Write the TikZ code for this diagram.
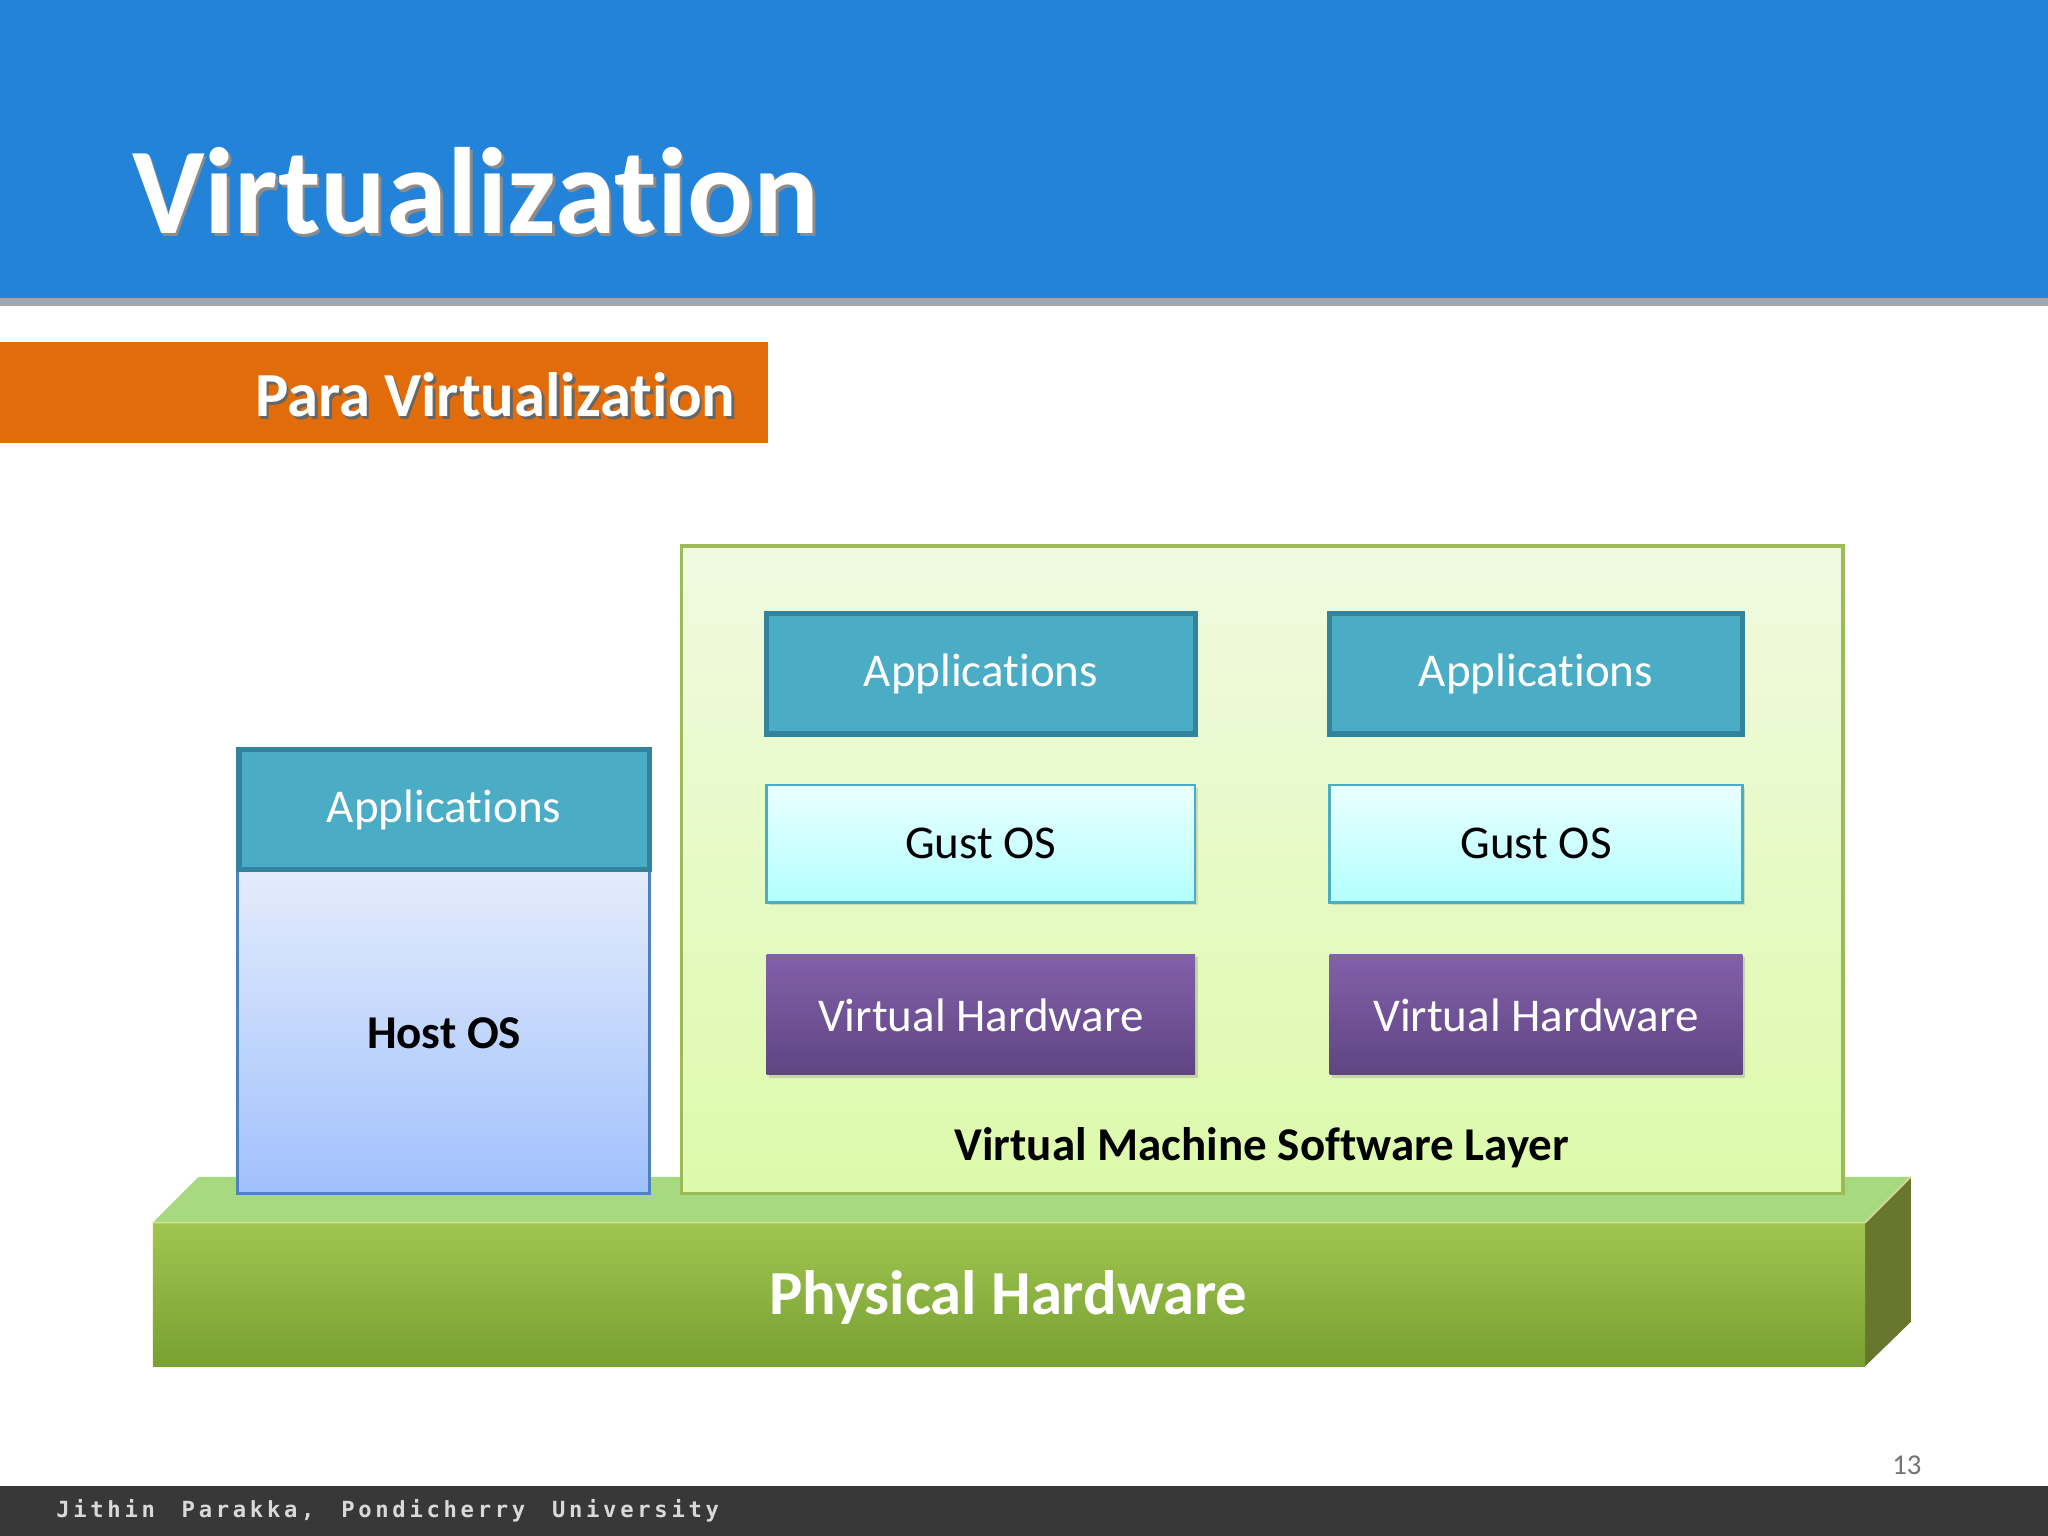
\documentclass[tikz,border=0pt]{standalone}
\usepackage{fontspec}
\setmainfont[RawFeature={-liga}]{Carlito}
\newfontfamily\footfont{DejaVu Sans Mono}
\usetikzlibrary{shadows}
\definecolor{hdr}{HTML}{2283D9}
\definecolor{org}{HTML}{E36C0A}
\definecolor{appf}{HTML}{4BACC6}
\definecolor{appd}{HTML}{31849B}
\definecolor{vtop}{HTML}{8360AA}
\definecolor{vbot}{HTML}{5E4582}
\tikzset{
 appbox/.style={draw=appd,line width=2pt,fill=appf,text=white,font=\fontsize{18}{20}\selectfont},
 gustbox/.style={draw=appf,line width=1pt,top color=cyan!8,bottom color=cyan!30,text=black,font=\fontsize{18}{20}\selectfont,drop shadow={opacity=0.25,shadow xshift=1pt,shadow yshift=-1pt}},
 vhbox/.style={draw=none,top color=vtop,bottom color=vbot,text=white,font=\fontsize{18}{20}\selectfont,drop shadow={opacity=0.3,shadow xshift=1pt,shadow yshift=-1pt}},
}
\begin{document}
\begin{tikzpicture}[x=0.5pt,y=-0.5pt]
\useasboundingbox (0,0) rectangle (1568,1176);
\fill[white] (0,0) rectangle (1568,1176);
% header
\fill[black!35] (0,224) rectangle (1568,234);
\fill[hdr] (0,0) rectangle (1568,228);
\node[anchor=base west,text=black!45,font=\bfseries\fontsize{47}{50}\selectfont] at (96,181) {Virtualization};
\node[anchor=base west,text=white,font=\bfseries\fontsize{47}{50}\selectfont] (title) at (94,179) {Virtualization};
% orange
\fill[org] (0,262) rectangle (588,339);
\node[anchor=base east,text=black!60,font=\bfseries\fontsize{24}{28}\selectfont] at (572,321) {Para Virtualization};
\node[anchor=base east,text=white,font=\bfseries\fontsize{24}{28}\selectfont] (sub) at (570,319) {Para Virtualization};
% physical hardware slab
\fill[green!40!olive!50!white] (117,936) -- (152,901) -- (1463,901) -- (1428,936) -- cycle;
\fill[olive!70!green!70!black] (1428,936) -- (1463,901) -- (1463,1012) -- (1428,1046) -- cycle;
\shade[top color={rgb,255:red,160;green,198;blue,80},bottom color={rgb,255:red,120;green,160;blue,50}] (117,936) rectangle (1428,1046);
\draw[white!70!olive,line width=0.6pt] (117,936) -- (1428,936) -- (1463,901);
\node[text=white,font=\bfseries\fontsize{24}{26}\selectfont] (phys) at (772,993) {Physical Hardware};
% VM layer
\draw[draw={rgb,255:red,155;green,187;blue,89},line width=1.2pt,top color={rgb,255:red,240;green,250;blue,225},bottom color={rgb,255:red,220;green,250;blue,170}] (522,418) rectangle (1411,914);
\node[font=\bfseries\fontsize{18}{20}\selectfont] (vmsl) at (966,879) {Virtual Machine Software Layer};
% host
\draw[draw={rgb,255:red,79;green,129;blue,189},line width=1.2pt,top color={rgb,255:red,228;green,236;blue,252},bottom color={rgb,255:red,160;green,192;blue,252}] (182,666) rectangle (497,914);
\node[font=\bfseries\fontsize{18}{20}\selectfont] (host) at (340,791) {Host OS};
\node[appbox,minimum width=157pt,minimum height=46pt] (happ) at (340,620) {Applications};
% VM columns
\foreach \cx/\w/\n in {751/164/a,1176/158/b}{
 \node[appbox,minimum width=\w pt,minimum height=46pt] (app\n) at (\cx,516) {Applications};
 \node[gustbox,minimum width=\w pt,minimum height=45pt] (gos\n) at (\cx,646) {Gust OS};
 \node[vhbox,minimum width=\w pt,minimum height=46pt] (vh\n) at (\cx,777) {Virtual Hardware};
}
% footer
\node[text=black!55,font=\fontsize{11}{13}\selectfont] (pg) at (1460,1122) {13};
\fill[black!78] (0,1138) rectangle (1568,1176);
\node[anchor=west,text=black!15,font=\footfont\bfseries\fontsize{8.5}{10}\selectfont] (foot) at (36,1157) {J\,i\,t\,h\,i\,n\ \ P\,a\,r\,a\,k\,k\,a\,,\ \ P\,o\,n\,d\,i\,c\,h\,e\,r\,r\,y\ \ U\,n\,i\,v\,e\,r\,s\,i\,t\,y};
\end{tikzpicture}
\end{document}
